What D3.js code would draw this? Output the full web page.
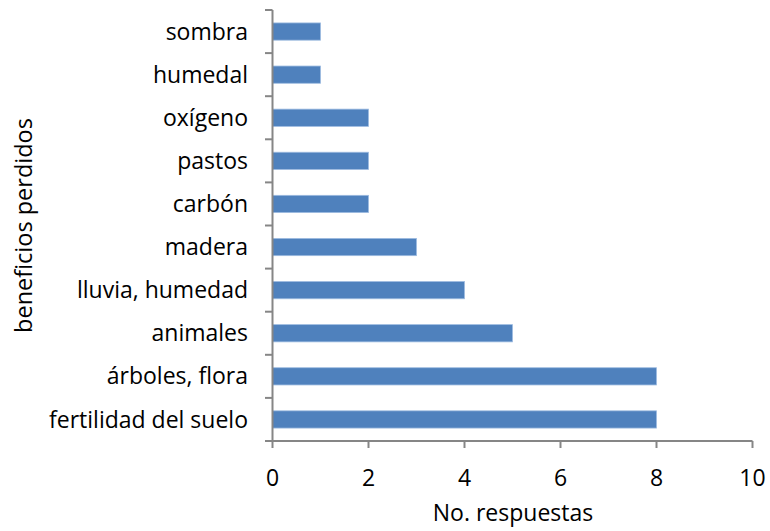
<!DOCTYPE html>
<html><head><meta charset="utf-8">
<script src="https://cdn.jsdelivr.net/npm/d3@7"></script>
<style>body{margin:0;background:#fff}text{font-family:"Open Sans",sans-serif;fill:#000}</style>
</head><body><svg id="c" width="770" height="531"></svg>
<script>
const categories = ["sombra","humedal","oxígeno","pastos","carbón","madera","lluvia, humedad","animales","árboles, flora","fertilidad del suelo"];
const values = [1,1,2,2,2,3,4,5,8,8];
const xTicks = [0,2,4,6,8,10];
const xTitle = "No. respuestas";
const yTitle = "beneficios perdidos";

const svg = d3.select("#c");
const x = d3.scaleLinear().domain([0,10]).range([272.5,752.5]);
const y = d3.scaleBand().domain(categories).range([10,441]).paddingInner(0.6).paddingOuter(0.3);

svg.selectAll("rect.bar").data(categories).join("rect")
  .attr("x", x(0)).attr("y", d=>y(d))
  .attr("width", (d,i)=>x(values[i])-x(0)).attr("height", y.bandwidth())
  .attr("fill","#4F81BD").attr("stroke","#9DBBE0").attr("stroke-width",0.8);

const axisColor = "#868686";
const fs = "23px";
// y axis
const yb = d3.scaleLinear().domain([0,categories.length]).range([10,441]);
const gy = svg.append("g");
gy.append("line").attr("x1",272.5).attr("x2",272.5).attr("y1",10).attr("y2",441).attr("stroke",axisColor).attr("stroke-width",2);
gy.selectAll("line.t").data(d3.range(categories.length+1)).join("line")
  .attr("x1",265).attr("x2",272.5).attr("y1",d=>yb(d)).attr("y2",d=>yb(d)).attr("stroke",axisColor).attr("stroke-width",2);
gy.selectAll("text").data(categories).join("text")
  .attr("x",248).attr("y",d=>y(d)+y.bandwidth()/2).attr("dy","0.35em")
  .attr("text-anchor","end").style("font-size",fs).text(d=>d);

// x axis
const gx = svg.append("g");
gx.append("line").attr("x1",272.5).attr("x2",752.5).attr("y1",441).attr("y2",441).attr("stroke",axisColor).attr("stroke-width",2);
gx.selectAll("line.t").data(xTicks).join("line")
  .attr("x1",d=>x(d)).attr("x2",d=>x(d)).attr("y1",441).attr("y2",448).attr("stroke",axisColor).attr("stroke-width",2);
gx.selectAll("text").data(xTicks).join("text")
  .attr("x",d=>x(d)).attr("y",486).attr("text-anchor","middle").style("font-size",fs).text(d=>d);

svg.append("text").attr("x",513).attr("y",521).attr("text-anchor","middle").style("font-size",fs).text(xTitle);
svg.append("text").attr("transform","translate(32,225.5) rotate(-90)").attr("text-anchor","middle").style("font-size","23.5px").text(yTitle);
</script></body></html>
